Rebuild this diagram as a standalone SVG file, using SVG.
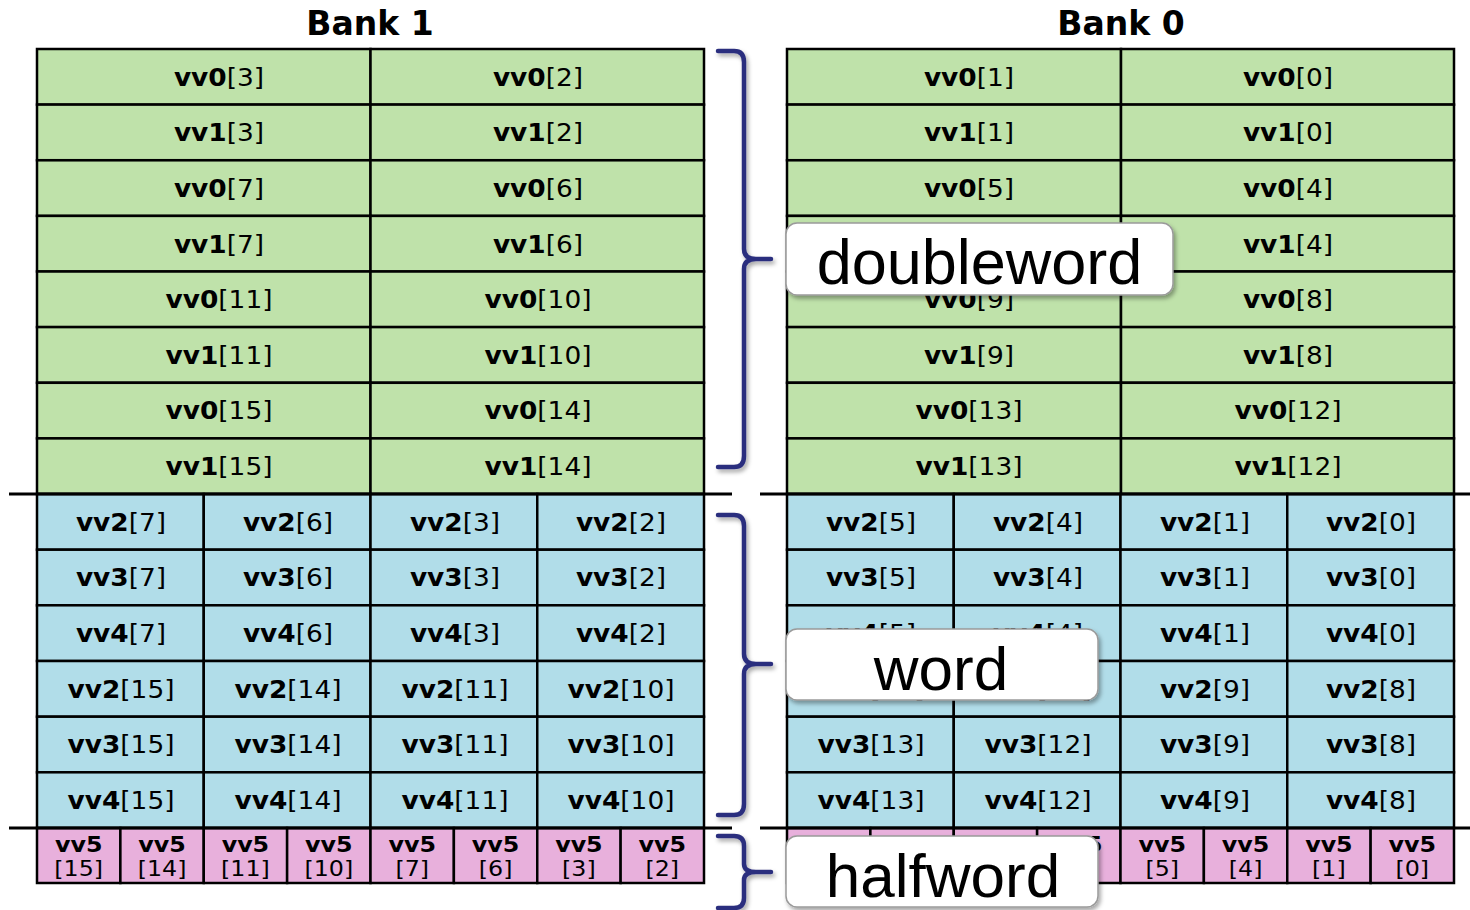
<svg xmlns="http://www.w3.org/2000/svg" width="1470" height="910" viewBox="0 0 1470 910">
<style>
.g{fill:#bfe2aa;stroke:#000;stroke-width:2.5}
.u{fill:#b1dde9;stroke:#000;stroke-width:2.5}
.p{fill:#e8b0dc;stroke:#000;stroke-width:2.5}
text{font-family:"DejaVu Sans",Verdana,sans-serif;fill:#000}
.t{font-size:24px;text-anchor:middle}
.s{font-size:22px;text-anchor:middle}
.b{font-weight:bold}
.h{font-size:33px;font-weight:bold;text-anchor:middle}
.lbl{font-family:"Liberation Sans",Arial,sans-serif;font-size:63px;text-anchor:middle}
.box{fill:#fff;stroke:#9a9a9a;stroke-width:1.5}
.br{fill:none;stroke:#2c2f7e;stroke-width:4.5;stroke-linecap:round;stroke-linejoin:round}
.sep{stroke:#000;stroke-width:3}
</style>
<defs>
<filter id="sh" x="-10%" y="-10%" width="130%" height="140%">
<feDropShadow dx="2" dy="3" stdDeviation="2" flood-color="#000" flood-opacity="0.35"/>
</filter>
</defs>
<rect width="1470" height="910" fill="#fff"/>
<g id="titles">
<text class="h" x="370" y="35">Bank 1</text>
<text class="h" x="1121" y="35">Bank 0</text>
</g>
<g id="bank1-doubleword">
<g id="b1d1a"><rect class="g" x="37" y="49" width="333.5" height="55.6"/><text class="t" transform="translate(219,86) scale(1.1,1)"><tspan class="b">vv0</tspan>[3]</text></g>
<g id="b1d1b"><rect class="g" x="370.5" y="49" width="333.5" height="55.6"/><text class="t" transform="translate(538,86) scale(1.1,1)"><tspan class="b">vv0</tspan>[2]</text></g>
<g id="b1d2a"><rect class="g" x="37" y="104.6" width="333.5" height="55.6"/><text class="t" transform="translate(219,141) scale(1.1,1)"><tspan class="b">vv1</tspan>[3]</text></g>
<g id="b1d2b"><rect class="g" x="370.5" y="104.6" width="333.5" height="55.6"/><text class="t" transform="translate(538,141) scale(1.1,1)"><tspan class="b">vv1</tspan>[2]</text></g>
<g id="b1d3a"><rect class="g" x="37" y="160.3" width="333.5" height="55.6"/><text class="t" transform="translate(219,197) scale(1.1,1)"><tspan class="b">vv0</tspan>[7]</text></g>
<g id="b1d3b"><rect class="g" x="370.5" y="160.3" width="333.5" height="55.6"/><text class="t" transform="translate(538,197) scale(1.1,1)"><tspan class="b">vv0</tspan>[6]</text></g>
<g id="b1d4a"><rect class="g" x="37" y="215.9" width="333.5" height="55.6"/><text class="t" transform="translate(219,253) scale(1.1,1)"><tspan class="b">vv1</tspan>[7]</text></g>
<g id="b1d4b"><rect class="g" x="370.5" y="215.9" width="333.5" height="55.6"/><text class="t" transform="translate(538,253) scale(1.1,1)"><tspan class="b">vv1</tspan>[6]</text></g>
<g id="b1d5a"><rect class="g" x="37" y="271.5" width="333.5" height="55.6"/><text class="t" transform="translate(219,308) scale(1.1,1)"><tspan class="b">vv0</tspan>[11]</text></g>
<g id="b1d5b"><rect class="g" x="370.5" y="271.5" width="333.5" height="55.6"/><text class="t" transform="translate(538,308) scale(1.1,1)"><tspan class="b">vv0</tspan>[10]</text></g>
<g id="b1d6a"><rect class="g" x="37" y="327.1" width="333.5" height="55.6"/><text class="t" transform="translate(219,364) scale(1.1,1)"><tspan class="b">vv1</tspan>[11]</text></g>
<g id="b1d6b"><rect class="g" x="370.5" y="327.1" width="333.5" height="55.6"/><text class="t" transform="translate(538,364) scale(1.1,1)"><tspan class="b">vv1</tspan>[10]</text></g>
<g id="b1d7a"><rect class="g" x="37" y="382.8" width="333.5" height="55.6"/><text class="t" transform="translate(219,419) scale(1.1,1)"><tspan class="b">vv0</tspan>[15]</text></g>
<g id="b1d7b"><rect class="g" x="370.5" y="382.8" width="333.5" height="55.6"/><text class="t" transform="translate(538,419) scale(1.1,1)"><tspan class="b">vv0</tspan>[14]</text></g>
<g id="b1d8a"><rect class="g" x="37" y="438.4" width="333.5" height="55.6"/><text class="t" transform="translate(219,475) scale(1.1,1)"><tspan class="b">vv1</tspan>[15]</text></g>
<g id="b1d8b"><rect class="g" x="370.5" y="438.4" width="333.5" height="55.6"/><text class="t" transform="translate(538,475) scale(1.1,1)"><tspan class="b">vv1</tspan>[14]</text></g>
</g>
<g id="bank0-doubleword">
<g id="b0d1a"><rect class="g" x="787" y="49" width="334" height="55.6"/><text class="t" transform="translate(969,86) scale(1.1,1)"><tspan class="b">vv0</tspan>[1]</text></g>
<g id="b0d1b"><rect class="g" x="1121" y="49" width="333" height="55.6"/><text class="t" transform="translate(1288,86) scale(1.1,1)"><tspan class="b">vv0</tspan>[0]</text></g>
<g id="b0d2a"><rect class="g" x="787" y="104.6" width="334" height="55.6"/><text class="t" transform="translate(969,141) scale(1.1,1)"><tspan class="b">vv1</tspan>[1]</text></g>
<g id="b0d2b"><rect class="g" x="1121" y="104.6" width="333" height="55.6"/><text class="t" transform="translate(1288,141) scale(1.1,1)"><tspan class="b">vv1</tspan>[0]</text></g>
<g id="b0d3a"><rect class="g" x="787" y="160.3" width="334" height="55.6"/><text class="t" transform="translate(969,197) scale(1.1,1)"><tspan class="b">vv0</tspan>[5]</text></g>
<g id="b0d3b"><rect class="g" x="1121" y="160.3" width="333" height="55.6"/><text class="t" transform="translate(1288,197) scale(1.1,1)"><tspan class="b">vv0</tspan>[4]</text></g>
<g id="b0d4a"><rect class="g" x="787" y="215.9" width="334" height="55.6"/><text class="t" transform="translate(969,253) scale(1.1,1)"><tspan class="b">vv1</tspan>[5]</text></g>
<g id="b0d4b"><rect class="g" x="1121" y="215.9" width="333" height="55.6"/><text class="t" transform="translate(1288,253) scale(1.1,1)"><tspan class="b">vv1</tspan>[4]</text></g>
<g id="b0d5a"><rect class="g" x="787" y="271.5" width="334" height="55.6"/><text class="t" transform="translate(969,308) scale(1.1,1)"><tspan class="b">vv0</tspan>[9]</text></g>
<g id="b0d5b"><rect class="g" x="1121" y="271.5" width="333" height="55.6"/><text class="t" transform="translate(1288,308) scale(1.1,1)"><tspan class="b">vv0</tspan>[8]</text></g>
<g id="b0d6a"><rect class="g" x="787" y="327.1" width="334" height="55.6"/><text class="t" transform="translate(969,364) scale(1.1,1)"><tspan class="b">vv1</tspan>[9]</text></g>
<g id="b0d6b"><rect class="g" x="1121" y="327.1" width="333" height="55.6"/><text class="t" transform="translate(1288,364) scale(1.1,1)"><tspan class="b">vv1</tspan>[8]</text></g>
<g id="b0d7a"><rect class="g" x="787" y="382.8" width="334" height="55.6"/><text class="t" transform="translate(969,419) scale(1.1,1)"><tspan class="b">vv0</tspan>[13]</text></g>
<g id="b0d7b"><rect class="g" x="1121" y="382.8" width="333" height="55.6"/><text class="t" transform="translate(1288,419) scale(1.1,1)"><tspan class="b">vv0</tspan>[12]</text></g>
<g id="b0d8a"><rect class="g" x="787" y="438.4" width="334" height="55.6"/><text class="t" transform="translate(969,475) scale(1.1,1)"><tspan class="b">vv1</tspan>[13]</text></g>
<g id="b0d8b"><rect class="g" x="1121" y="438.4" width="333" height="55.6"/><text class="t" transform="translate(1288,475) scale(1.1,1)"><tspan class="b">vv1</tspan>[12]</text></g>
</g>
<g id="bank1-word">
<g id="b1w1a"><rect class="u" x="37" y="494" width="166.75" height="55.7"/><text class="t" transform="translate(121,531) scale(1.1,1)"><tspan class="b">vv2</tspan>[7]</text></g>
<g id="b1w1b"><rect class="u" x="203.75" y="494" width="166.75" height="55.7"/><text class="t" transform="translate(288,531) scale(1.1,1)"><tspan class="b">vv2</tspan>[6]</text></g>
<g id="b1w1c"><rect class="u" x="370.5" y="494" width="166.75" height="55.7"/><text class="t" transform="translate(455,531) scale(1.1,1)"><tspan class="b">vv2</tspan>[3]</text></g>
<g id="b1w1d"><rect class="u" x="537.25" y="494" width="166.75" height="55.7"/><text class="t" transform="translate(621,531) scale(1.1,1)"><tspan class="b">vv2</tspan>[2]</text></g>
<g id="b1w2a"><rect class="u" x="37" y="549.7" width="166.75" height="55.7"/><text class="t" transform="translate(121,586) scale(1.1,1)"><tspan class="b">vv3</tspan>[7]</text></g>
<g id="b1w2b"><rect class="u" x="203.75" y="549.7" width="166.75" height="55.7"/><text class="t" transform="translate(288,586) scale(1.1,1)"><tspan class="b">vv3</tspan>[6]</text></g>
<g id="b1w2c"><rect class="u" x="370.5" y="549.7" width="166.75" height="55.7"/><text class="t" transform="translate(455,586) scale(1.1,1)"><tspan class="b">vv3</tspan>[3]</text></g>
<g id="b1w2d"><rect class="u" x="537.25" y="549.7" width="166.75" height="55.7"/><text class="t" transform="translate(621,586) scale(1.1,1)"><tspan class="b">vv3</tspan>[2]</text></g>
<g id="b1w3a"><rect class="u" x="37" y="605.3" width="166.75" height="55.7"/><text class="t" transform="translate(121,642) scale(1.1,1)"><tspan class="b">vv4</tspan>[7]</text></g>
<g id="b1w3b"><rect class="u" x="203.75" y="605.3" width="166.75" height="55.7"/><text class="t" transform="translate(288,642) scale(1.1,1)"><tspan class="b">vv4</tspan>[6]</text></g>
<g id="b1w3c"><rect class="u" x="370.5" y="605.3" width="166.75" height="55.7"/><text class="t" transform="translate(455,642) scale(1.1,1)"><tspan class="b">vv4</tspan>[3]</text></g>
<g id="b1w3d"><rect class="u" x="537.25" y="605.3" width="166.75" height="55.7"/><text class="t" transform="translate(621,642) scale(1.1,1)"><tspan class="b">vv4</tspan>[2]</text></g>
<g id="b1w4a"><rect class="u" x="37" y="661" width="166.75" height="55.7"/><text class="t" transform="translate(121,698) scale(1.1,1)"><tspan class="b">vv2</tspan>[15]</text></g>
<g id="b1w4b"><rect class="u" x="203.75" y="661" width="166.75" height="55.7"/><text class="t" transform="translate(288,698) scale(1.1,1)"><tspan class="b">vv2</tspan>[14]</text></g>
<g id="b1w4c"><rect class="u" x="370.5" y="661" width="166.75" height="55.7"/><text class="t" transform="translate(455,698) scale(1.1,1)"><tspan class="b">vv2</tspan>[11]</text></g>
<g id="b1w4d"><rect class="u" x="537.25" y="661" width="166.75" height="55.7"/><text class="t" transform="translate(621,698) scale(1.1,1)"><tspan class="b">vv2</tspan>[10]</text></g>
<g id="b1w5a"><rect class="u" x="37" y="716.7" width="166.75" height="55.7"/><text class="t" transform="translate(121,753) scale(1.1,1)"><tspan class="b">vv3</tspan>[15]</text></g>
<g id="b1w5b"><rect class="u" x="203.75" y="716.7" width="166.75" height="55.7"/><text class="t" transform="translate(288,753) scale(1.1,1)"><tspan class="b">vv3</tspan>[14]</text></g>
<g id="b1w5c"><rect class="u" x="370.5" y="716.7" width="166.75" height="55.7"/><text class="t" transform="translate(455,753) scale(1.1,1)"><tspan class="b">vv3</tspan>[11]</text></g>
<g id="b1w5d"><rect class="u" x="537.25" y="716.7" width="166.75" height="55.7"/><text class="t" transform="translate(621,753) scale(1.1,1)"><tspan class="b">vv3</tspan>[10]</text></g>
<g id="b1w6a"><rect class="u" x="37" y="772.3" width="166.75" height="55.7"/><text class="t" transform="translate(121,809) scale(1.1,1)"><tspan class="b">vv4</tspan>[15]</text></g>
<g id="b1w6b"><rect class="u" x="203.75" y="772.3" width="166.75" height="55.7"/><text class="t" transform="translate(288,809) scale(1.1,1)"><tspan class="b">vv4</tspan>[14]</text></g>
<g id="b1w6c"><rect class="u" x="370.5" y="772.3" width="166.75" height="55.7"/><text class="t" transform="translate(455,809) scale(1.1,1)"><tspan class="b">vv4</tspan>[11]</text></g>
<g id="b1w6d"><rect class="u" x="537.25" y="772.3" width="166.75" height="55.7"/><text class="t" transform="translate(621,809) scale(1.1,1)"><tspan class="b">vv4</tspan>[10]</text></g>
</g>
<g id="bank0-word">
<g id="b0w1a"><rect class="u" x="787" y="494" width="166.75" height="55.7"/><text class="t" transform="translate(871,531) scale(1.1,1)"><tspan class="b">vv2</tspan>[5]</text></g>
<g id="b0w1b"><rect class="u" x="953.75" y="494" width="166.75" height="55.7"/><text class="t" transform="translate(1038,531) scale(1.1,1)"><tspan class="b">vv2</tspan>[4]</text></g>
<g id="b0w1c"><rect class="u" x="1120.5" y="494" width="166.75" height="55.7"/><text class="t" transform="translate(1205,531) scale(1.1,1)"><tspan class="b">vv2</tspan>[1]</text></g>
<g id="b0w1d"><rect class="u" x="1287.25" y="494" width="166.75" height="55.7"/><text class="t" transform="translate(1371,531) scale(1.1,1)"><tspan class="b">vv2</tspan>[0]</text></g>
<g id="b0w2a"><rect class="u" x="787" y="549.7" width="166.75" height="55.7"/><text class="t" transform="translate(871,586) scale(1.1,1)"><tspan class="b">vv3</tspan>[5]</text></g>
<g id="b0w2b"><rect class="u" x="953.75" y="549.7" width="166.75" height="55.7"/><text class="t" transform="translate(1038,586) scale(1.1,1)"><tspan class="b">vv3</tspan>[4]</text></g>
<g id="b0w2c"><rect class="u" x="1120.5" y="549.7" width="166.75" height="55.7"/><text class="t" transform="translate(1205,586) scale(1.1,1)"><tspan class="b">vv3</tspan>[1]</text></g>
<g id="b0w2d"><rect class="u" x="1287.25" y="549.7" width="166.75" height="55.7"/><text class="t" transform="translate(1371,586) scale(1.1,1)"><tspan class="b">vv3</tspan>[0]</text></g>
<g id="b0w3a"><rect class="u" x="787" y="605.3" width="166.75" height="55.7"/><text class="t" transform="translate(871,642) scale(1.1,1)"><tspan class="b">vv4</tspan>[5]</text></g>
<g id="b0w3b"><rect class="u" x="953.75" y="605.3" width="166.75" height="55.7"/><text class="t" transform="translate(1038,642) scale(1.1,1)"><tspan class="b">vv4</tspan>[4]</text></g>
<g id="b0w3c"><rect class="u" x="1120.5" y="605.3" width="166.75" height="55.7"/><text class="t" transform="translate(1205,642) scale(1.1,1)"><tspan class="b">vv4</tspan>[1]</text></g>
<g id="b0w3d"><rect class="u" x="1287.25" y="605.3" width="166.75" height="55.7"/><text class="t" transform="translate(1371,642) scale(1.1,1)"><tspan class="b">vv4</tspan>[0]</text></g>
<g id="b0w4a"><rect class="u" x="787" y="661" width="166.75" height="55.7"/><text class="t" transform="translate(871,698) scale(1.1,1)"><tspan class="b">vv2</tspan>[13]</text></g>
<g id="b0w4b"><rect class="u" x="953.75" y="661" width="166.75" height="55.7"/><text class="t" transform="translate(1038,698) scale(1.1,1)"><tspan class="b">vv2</tspan>[12]</text></g>
<g id="b0w4c"><rect class="u" x="1120.5" y="661" width="166.75" height="55.7"/><text class="t" transform="translate(1205,698) scale(1.1,1)"><tspan class="b">vv2</tspan>[9]</text></g>
<g id="b0w4d"><rect class="u" x="1287.25" y="661" width="166.75" height="55.7"/><text class="t" transform="translate(1371,698) scale(1.1,1)"><tspan class="b">vv2</tspan>[8]</text></g>
<g id="b0w5a"><rect class="u" x="787" y="716.7" width="166.75" height="55.7"/><text class="t" transform="translate(871,753) scale(1.1,1)"><tspan class="b">vv3</tspan>[13]</text></g>
<g id="b0w5b"><rect class="u" x="953.75" y="716.7" width="166.75" height="55.7"/><text class="t" transform="translate(1038,753) scale(1.1,1)"><tspan class="b">vv3</tspan>[12]</text></g>
<g id="b0w5c"><rect class="u" x="1120.5" y="716.7" width="166.75" height="55.7"/><text class="t" transform="translate(1205,753) scale(1.1,1)"><tspan class="b">vv3</tspan>[9]</text></g>
<g id="b0w5d"><rect class="u" x="1287.25" y="716.7" width="166.75" height="55.7"/><text class="t" transform="translate(1371,753) scale(1.1,1)"><tspan class="b">vv3</tspan>[8]</text></g>
<g id="b0w6a"><rect class="u" x="787" y="772.3" width="166.75" height="55.7"/><text class="t" transform="translate(871,809) scale(1.1,1)"><tspan class="b">vv4</tspan>[13]</text></g>
<g id="b0w6b"><rect class="u" x="953.75" y="772.3" width="166.75" height="55.7"/><text class="t" transform="translate(1038,809) scale(1.1,1)"><tspan class="b">vv4</tspan>[12]</text></g>
<g id="b0w6c"><rect class="u" x="1120.5" y="772.3" width="166.75" height="55.7"/><text class="t" transform="translate(1205,809) scale(1.1,1)"><tspan class="b">vv4</tspan>[9]</text></g>
<g id="b0w6d"><rect class="u" x="1287.25" y="772.3" width="166.75" height="55.7"/><text class="t" transform="translate(1371,809) scale(1.1,1)"><tspan class="b">vv4</tspan>[8]</text></g>
</g>
<g id="bank1-halfword">
<g id="b1h1"><rect class="p" x="37" y="828" width="83.375" height="55"/><text class="s" transform="translate(78.7,852) scale(1.08,1)"><tspan class="b">vv5</tspan><tspan x="0" y="24">[15]</tspan></text></g>
<g id="b1h2"><rect class="p" x="120.375" y="828" width="83.375" height="55"/><text class="s" transform="translate(162.1,852) scale(1.08,1)"><tspan class="b">vv5</tspan><tspan x="0" y="24">[14]</tspan></text></g>
<g id="b1h3"><rect class="p" x="203.75" y="828" width="83.375" height="55"/><text class="s" transform="translate(245.4,852) scale(1.08,1)"><tspan class="b">vv5</tspan><tspan x="0" y="24">[11]</tspan></text></g>
<g id="b1h4"><rect class="p" x="287.125" y="828" width="83.375" height="55"/><text class="s" transform="translate(328.8,852) scale(1.08,1)"><tspan class="b">vv5</tspan><tspan x="0" y="24">[10]</tspan></text></g>
<g id="b1h5"><rect class="p" x="370.5" y="828" width="83.375" height="55"/><text class="s" transform="translate(412.2,852) scale(1.08,1)"><tspan class="b">vv5</tspan><tspan x="0" y="24">[7]</tspan></text></g>
<g id="b1h6"><rect class="p" x="453.875" y="828" width="83.375" height="55"/><text class="s" transform="translate(495.6,852) scale(1.08,1)"><tspan class="b">vv5</tspan><tspan x="0" y="24">[6]</tspan></text></g>
<g id="b1h7"><rect class="p" x="537.25" y="828" width="83.375" height="55"/><text class="s" transform="translate(578.9,852) scale(1.08,1)"><tspan class="b">vv5</tspan><tspan x="0" y="24">[3]</tspan></text></g>
<g id="b1h8"><rect class="p" x="620.625" y="828" width="83.375" height="55"/><text class="s" transform="translate(662.3,852) scale(1.08,1)"><tspan class="b">vv5</tspan><tspan x="0" y="24">[2]</tspan></text></g>
</g>
<g id="bank0-halfword">
<g id="b0h1"><rect class="p" x="787" y="828" width="83.375" height="55"/><text class="s" transform="translate(828.7,852) scale(1.08,1)"><tspan class="b">vv5</tspan><tspan x="0" y="24">[13]</tspan></text></g>
<g id="b0h2"><rect class="p" x="870.375" y="828" width="83.375" height="55"/><text class="s" transform="translate(912.1,852) scale(1.08,1)"><tspan class="b">vv5</tspan><tspan x="0" y="24">[12]</tspan></text></g>
<g id="b0h3"><rect class="p" x="953.75" y="828" width="83.375" height="55"/><text class="s" transform="translate(995.4,852) scale(1.08,1)"><tspan class="b">vv5</tspan><tspan x="0" y="24">[9]</tspan></text></g>
<g id="b0h4"><rect class="p" x="1037.125" y="828" width="83.375" height="55"/><text class="s" transform="translate(1078.8,852) scale(1.08,1)"><tspan class="b">vv5</tspan><tspan x="0" y="24">[8]</tspan></text></g>
<g id="b0h5"><rect class="p" x="1120.5" y="828" width="83.375" height="55"/><text class="s" transform="translate(1162.2,852) scale(1.08,1)"><tspan class="b">vv5</tspan><tspan x="0" y="24">[5]</tspan></text></g>
<g id="b0h6"><rect class="p" x="1203.875" y="828" width="83.375" height="55"/><text class="s" transform="translate(1245.6,852) scale(1.08,1)"><tspan class="b">vv5</tspan><tspan x="0" y="24">[4]</tspan></text></g>
<g id="b0h7"><rect class="p" x="1287.25" y="828" width="83.375" height="55"/><text class="s" transform="translate(1328.9,852) scale(1.08,1)"><tspan class="b">vv5</tspan><tspan x="0" y="24">[1]</tspan></text></g>
<g id="b0h8"><rect class="p" x="1370.625" y="828" width="83.375" height="55"/><text class="s" transform="translate(1412.3,852) scale(1.08,1)"><tspan class="b">vv5</tspan><tspan x="0" y="24">[0]</tspan></text></g>
</g>
<g id="connectors">
<line class="sep" x1="9" y1="494" x2="732" y2="494"/>
<line class="sep" x1="760" y1="494" x2="1470" y2="494"/>
<line class="sep" x1="9" y1="828" x2="732" y2="828"/>
<line class="sep" x1="760" y1="828" x2="1470" y2="828"/>
<g filter="url(#sh)">
<path class="br" d="M718,51 L734,51 Q744,51 744,62 L744,249 Q744,259 756,259 L771,259 M756,259 Q744,259 744,269 L744,456 Q744,467 734,467 L718,467"/>
<path class="br" d="M718,515 L734,515 Q744,515 744,526 L744,654 Q744,664 756,664 L771,664 M756,664 Q744,664 744,674 L744,804 Q744,815 734,815 L718,815"/>
<path class="br" d="M718,836 L734,836 Q744,836 744,846 L744,864 Q744,872 756,872 L771,872 M756,872 Q744,872 744,880 L744,898 Q744,908 734,908 L718,908"/>
</g>
</g>
<g id="label-doubleword">
<rect class="box" filter="url(#sh)" x="786" y="223" width="387" height="72" rx="11"/>
<text class="lbl" x="979.5" y="284">doubleword</text>
</g>
<g id="label-word">
<rect class="box" filter="url(#sh)" x="786" y="629" width="312" height="71" rx="11"/>
<text class="lbl" x="941" y="690" style="font-size:62px">word</text>
</g>
<g id="label-halfword">
<rect class="box" filter="url(#sh)" x="786" y="836" width="312" height="71" rx="11"/>
<text class="lbl" x="943" y="897" style="font-size:62px">halfword</text>
</g>
</svg>
